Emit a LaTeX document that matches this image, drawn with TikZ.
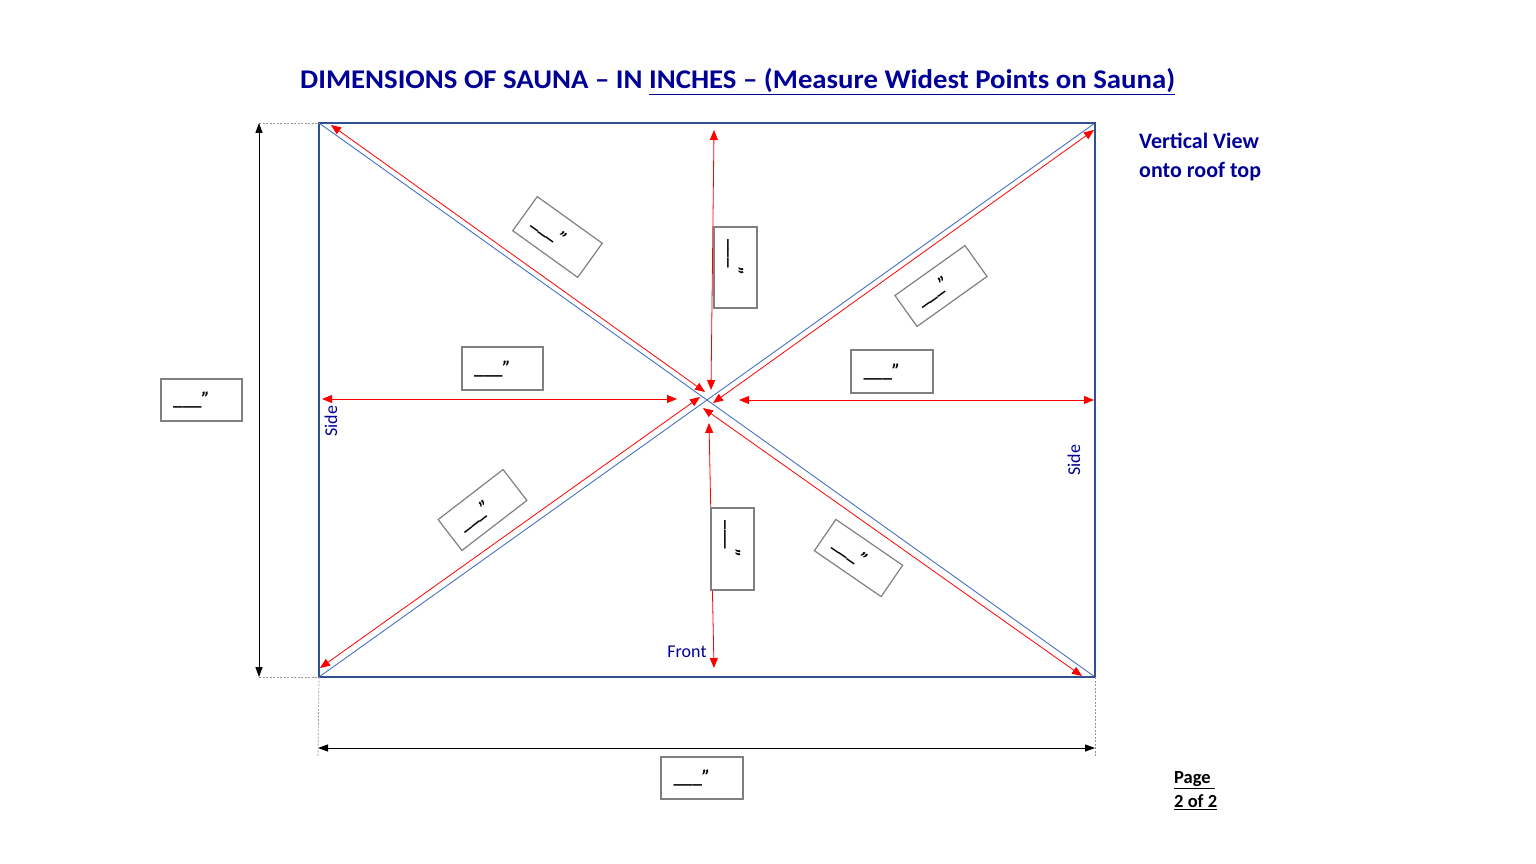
\documentclass[tikz,border=0pt]{standalone}
\usepackage{fontspec}
\setmainfont{Carlito}
\usetikzlibrary{arrows.meta}
\definecolor{sauNavy}{RGB}{0,0,150}
\definecolor{rectBlue}{RGB}{47,82,143}
\definecolor{diagBlue}{RGB}{68,114,196}
\definecolor{boxGray}{RGB}{128,128,128}
\definecolor{extGray}{RGB}{150,150,150}
\tikzset{
  redarr/.style={red, line width=0.8pt, {Triangle[length=10pt,width=8pt]}-{Triangle[length=10pt,width=8pt]}},
  blackarr/.style={black, line width=1pt, {Triangle[length=10pt,width=7pt]}-{Triangle[length=10pt,width=7pt]}},
  extline/.style={extGray, line width=0.7pt, dash pattern=on 2pt off 1.5pt},
  dimbox/.style={draw=boxGray, line width=1.2pt, fill=white, inner sep=0pt, font=\fontsize{19}{22}\selectfont\bfseries},
  navytxt/.style={text=sauNavy, inner sep=0pt},
}
\newcommand{\dimtxt}{\hspace*{-20pt}\_\_\_\textit{”}}
\begin{document}
\begin{tikzpicture}[x=1pt,y=-1pt]
\useasboundingbox (0,0) rectangle (1536,864);
% corners
\coordinate (tl) at (319,123);
\coordinate (tr) at (1095,123);
\coordinate (bl) at (319,677);
\coordinate (br) at (1095,677);
% title
\node[navytxt, anchor=base west, font=\fontsize{27}{32}\selectfont\bfseries] (title) at (300,89)
  {\scalebox{1.066}[1]{DIMENSIONS OF SAUNA – IN \underline{INCHES – (Measure Widest Points on Sauna)}}};
% diagonals
\draw[diagBlue, line width=0.9pt] (tl) -- (br);
\draw[diagBlue, line width=0.9pt] (bl) -- (tr);
% rectangle
\draw[rectBlue, line width=2pt] (tl) rectangle (br);
% red measure arrows
\coordinate (ulA) at (331,125);  \coordinate (ulB) at (705,392);
\coordinate (tvA) at (714,130);  \coordinate (tvB) at (711,390);
\coordinate (lhA) at (322,399);  \coordinate (lhB) at (677,399);
\coordinate (rhA) at (739,400);  \coordinate (rhB) at (1094,400);
\coordinate (urA) at (713,403);  \coordinate (urB) at (1094,130);
\coordinate (llA) at (320,668);  \coordinate (llB) at (700,397);
\coordinate (lrA) at (703,408);  \coordinate (lrB) at (1082,676);
\coordinate (bvA) at (709,423);  \coordinate (bvB) at (714,668);
\draw[redarr] (ulA) -- (ulB);
\draw[redarr] (tvA) -- (tvB);
\draw[redarr] (lhA) -- (lhB);
\draw[redarr] (rhA) -- (rhB);
\draw[redarr] (urA) -- (urB);
\draw[redarr] (llA) -- (llB);
\draw[redarr] (lrA) -- (lrB);
\draw[redarr] (bvA) -- (bvB);
% extension lines
\coordinate (vT) at (259,123);
\coordinate (vB) at (259,677);
\coordinate (hL) at (318,748);
\coordinate (hR) at (1095,748);
\coordinate (eL) at (318,757);
\coordinate (eR) at (1095,757);
\draw[extline] (vT) -- (tl);
\draw[extline] (vB) -- (bl);
\draw[extline] (bl) -- (eL);
\draw[extline] (br) -- (eR);
% black dimension arrows
\draw[blackarr] (vT) -- (vB);
\draw[blackarr] (hL) -- (hR);
% boxes
\node[dimbox, minimum width=81, minimum height=42] (leftbox) at (201.5,400) {\dimtxt};
\node[dimbox, minimum width=82, minimum height=42] (botbox) at (702,778) {\dimtxt};
\node[dimbox, minimum width=81, minimum height=43] (lhbox) at (502.5,368.5) {\dimtxt};
\node[dimbox, minimum width=82, minimum height=43] (rhbox) at (892,371.5) {\dimtxt};
\node[dimbox, minimum width=81, minimum height=43, rotate=-90] (tvbox) at (735.5,267.5) {\dimtxt};
\node[dimbox, minimum width=82, minimum height=43, rotate=-90] (bvbox) at (732.5,549) {\dimtxt};
\node[dimbox, minimum width=80, minimum height=42, rotate=-35.7] (ulbox) at (557.5,237) {\dimtxt};
\node[dimbox, minimum width=86, minimum height=38, rotate=35.5] (urbox) at (941,286) {\dimtxt};
\node[dimbox, minimum width=82, minimum height=39, rotate=37.6] (llbox) at (482.5,510) {\dimtxt};
\node[dimbox, minimum width=81, minimum height=38, rotate=-34.5] (lrbox) at (858.5,558) {\dimtxt};
% labels
\node[navytxt, rotate=90, font=\fontsize{18}{21}\selectfont] (sideL) at (331,421) {Side};
\node[navytxt, rotate=90, font=\fontsize{18}{21}\selectfont] (sideR) at (1074,460) {Side};
\node[navytxt, font=\fontsize{18}{21}\selectfont] (front) at (687,652) {Front};
\node[navytxt, anchor=north west, align=left, font=\fontsize{22}{28.5}\selectfont\bfseries] (view) at (1139,133)
  {Vertical View\\onto roof top};
\node[anchor=north west, align=left, inner sep=0pt, font=\fontsize{18.5}{24}\selectfont\bfseries] (page) at (1174,771)
  {\underline{Page\ }\\\underline{2 of 2}};
\end{tikzpicture}
\end{document}
